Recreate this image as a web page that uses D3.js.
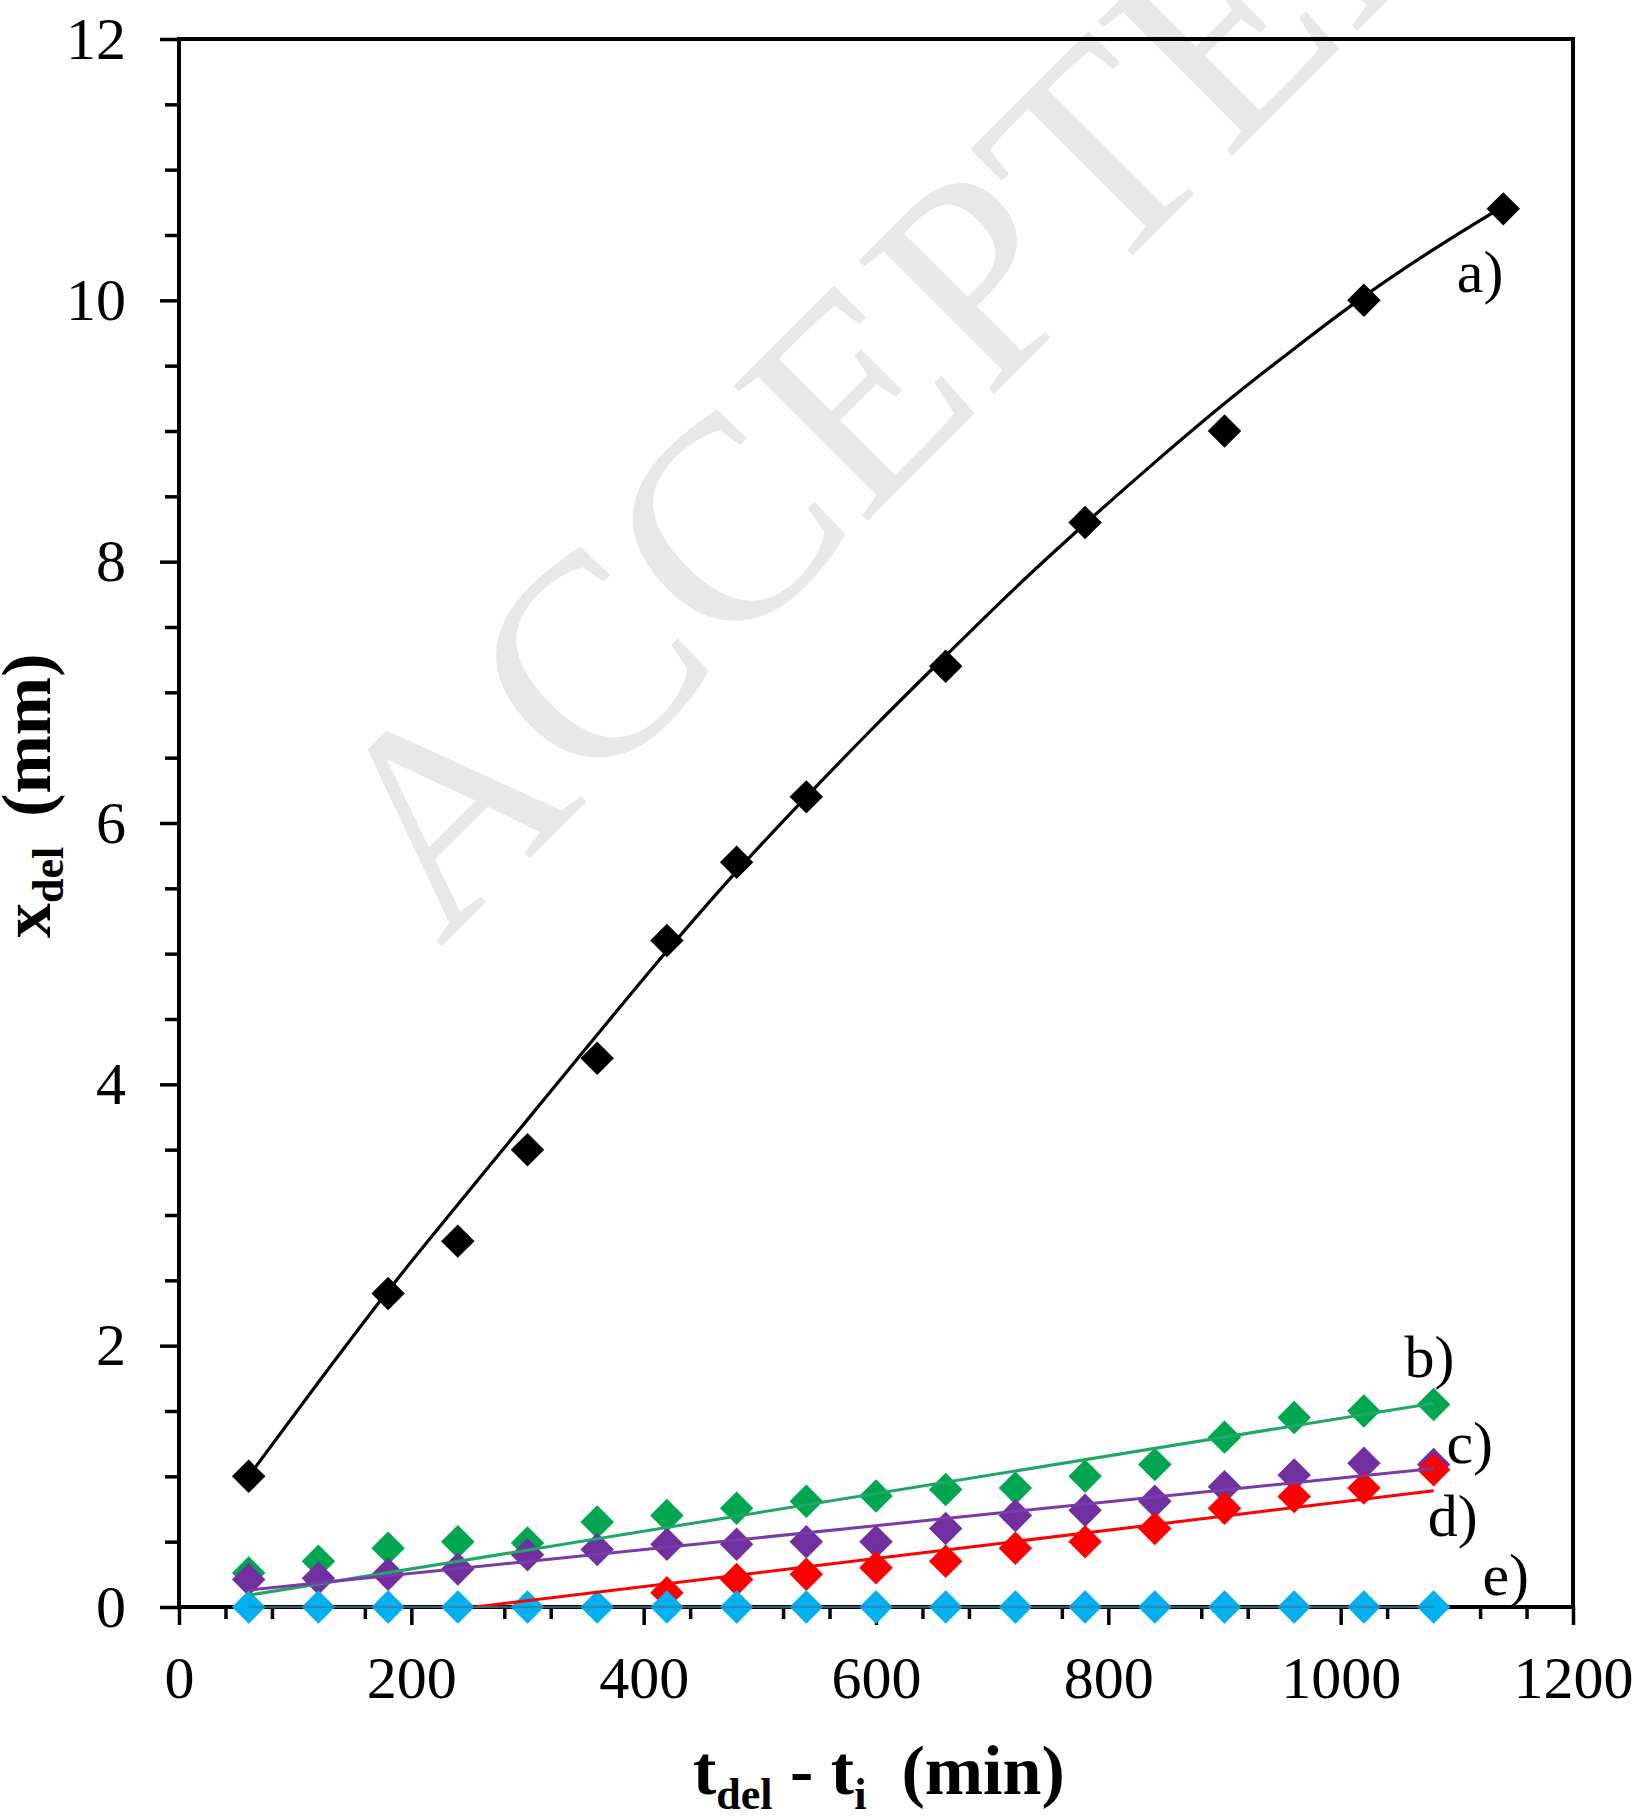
<!DOCTYPE html>
<html>
<head>
<meta charset="utf-8">
<script src="https://cdn.jsdelivr.net/npm/d3@7"></script>
<style>
  body { margin: 0; background: #fff; }
  text { font-family: "Liberation Serif", "Times New Roman", serif; }
</style>
</head>
<body>
<script>
// a) black series, measured points
const tA = [60, 180, 240, 300, 360, 420, 480, 540, 660, 780, 900, 1020, 1140];
const xA = [1.0, 2.4, 2.8, 3.5, 4.2, 5.1, 5.7, 6.2, 7.2, 8.3, 9.0, 10.0, 10.7];
// a) fitted curve
const tFitA = [60, 120, 180, 240, 300, 360, 420, 480, 540, 600, 660, 720, 780, 840, 900, 960, 1020, 1080, 1140];
const xFitA = [1.0, 1.72, 2.42, 3.08, 3.73, 4.38, 5.02, 5.63, 6.2, 6.75, 7.28, 7.8, 8.29, 8.76, 9.21, 9.63, 10.03, 10.39, 10.72];

// b) c) e) share the same times
const tLow = [60, 120, 180, 240, 300, 360, 420, 480, 540, 600, 660, 720, 780, 840, 900, 960, 1020, 1080];
const xB = [0.26, 0.35, 0.45, 0.50, 0.49, 0.65, 0.70, 0.755, 0.81, 0.85, 0.90, 0.91, 1.0, 1.09, 1.30, 1.45, 1.50, 1.55];
const xC = [0.21, 0.22, 0.25, 0.29, 0.40, 0.44, 0.48, 0.48, 0.50, 0.50, 0.60, 0.70, 0.74, 0.81, 0.92, 1.01, 1.10, 1.09];
const xE = [0, 0, 0, 0, 0, 0, 0, 0, 0, 0, 0, 0, 0, 0, 0, 0, 0, 0];
// d) starts later
const tD = [420, 480, 540, 600, 660, 720, 780, 840, 900, 960, 1020, 1080];
const xD = [0.11, 0.21, 0.25, 0.30, 0.35, 0.45, 0.50, 0.60, 0.755, 0.845, 0.91, 1.05];

// straight trend lines (end points)
const fitB = [[60, 0.09], [1080, 1.56]];
const fitC = [[60, 0.13], [1080, 1.06]];
const fitD = [[255, 0], [1080, 0.89]];
const fitE = [[60, 0], [1080, 0]];

const xTicks = [0, 200, 400, 600, 800, 1000, 1200];
const yTicks = [0, 2, 4, 6, 8, 10, 12];

const labels = [
  { name: "a)", t: 1100, v: 10.06 },
  { name: "b)", t: 1055, v: 1.76 },
  { name: "c)", t: 1091, v: 1.10 },
  { name: "d)", t: 1075, v: 0.54 },
  { name: "e)", t: 1122, v: 0.09 }
];

const w = 1632;
const h = 1818;

const svg = d3.select("body")
              .append("svg")
              .attr("width", w)
              .attr("height", h);

svg.append("rect").attr("width", w).attr("height", h).attr("fill", "#fff");

const x = d3.scaleLinear().domain([0, 1200]).range([179, 1573]);
const y = d3.scaleLinear().domain([0, 12]).range([1607, 39]);

// watermark
svg.append("text")
   .attr("transform", "translate(440,948) rotate(-45)")
   .attr("font-size", 290)
   .attr("fill", "#e8e8e8")
   .text("ACCEPTED MANUSCRIPT");

// axes with major + minor ticks
const xMinor = d3.range(0, 1201, 40).filter(d => d % 200 !== 0);
const yMinor = d3.range(0, 12.01, 0.5).filter(d => d % 2 !== 0);

svg.append("g")
   .attr("transform", `translate(0,${y(0)})`)
   .call(d3.axisBottom(x).tickValues(xMinor).tickSize(12).tickFormat(""))
   .call(g => g.select(".domain").remove())
   .call(g => g.selectAll("line").attr("stroke-width", 3.5));

svg.append("g")
   .attr("transform", `translate(0,${y(0)})`)
   .call(d3.axisBottom(x).tickValues(xTicks).tickSize(18).tickPadding(30).tickFormat(d3.format("d")))
   .call(g => g.select(".domain").remove())
   .call(g => g.selectAll("line").attr("stroke-width", 3.5))
   .call(g => g.selectAll("text").attr("font-size", 60).attr("font-family", "Liberation Serif").attr("fill", "#000"));

svg.append("g")
   .attr("transform", `translate(${x(0)},0)`)
   .call(d3.axisLeft(y).tickValues(yMinor).tickSize(14).tickFormat(""))
   .call(g => g.select(".domain").remove())
   .call(g => g.selectAll("line").attr("stroke-width", 3.5));

svg.append("g")
   .attr("transform", `translate(${x(0)},0)`)
   .call(d3.axisLeft(y).tickValues(yTicks).tickSize(19).tickPadding(34).tickFormat(d3.format("d")))
   .call(g => g.select(".domain").remove())
   .call(g => g.selectAll("line").attr("stroke-width", 3.5))
   .call(g => g.selectAll("text").attr("font-size", 60).attr("font-family", "Liberation Serif").attr("fill", "#000"));

// frame
svg.append("rect")
   .attr("x", x(0))
   .attr("y", y(12))
   .attr("width", x(1200) - x(0))
   .attr("height", y(0) - y(12))
   .attr("fill", "none")
   .attr("stroke", "#000")
   .attr("stroke-width", 4);

const diamond = d3.symbol(d3.symbolSquare, 560);

function markers(ts, vs, color) {
  svg.append("g")
     .selectAll("path")
     .data(ts.map((t, i) => [t, vs[i]]))
     .enter()
     .append("path")
     .attr("d", diamond)
     .attr("fill", color)
     .attr("transform", d => `translate(${x(d[0])},${y(d[1])}) rotate(45)`);
}

markers(tA, xA, "#000");
markers(tLow, xB, "#00a650");
markers(tLow, xC, "#7030a0");
markers(tD, xD, "#ff0000");
markers(tLow, xE, "#00b0f0");

const line = d3.line().x(d => x(d[0])).y(d => y(d[1]));

svg.append("path")
   .datum(tFitA.map((t, i) => [t, xFitA[i]]))
   .attr("d", line.curve(d3.curveMonotoneX))
   .attr("fill", "none")
   .attr("stroke", "#000")
   .attr("stroke-width", 3.2);

const straight = d3.line().x(d => x(d[0])).y(d => y(d[1]));
[[fitB, "#1fa864", 3], [fitC, "#7a3aaa", 3], [fitD, "#ff0000", 3], [fitE, "#3a7ca5", 1.5]].forEach(([pts, c, sw]) => {
  svg.append("path")
     .datum(pts)
     .attr("d", straight)
     .attr("fill", "none")
     .attr("stroke", c)
     .attr("stroke-width", sw);
});

// series labels
svg.append("g")
   .selectAll("text")
   .data(labels)
   .enter()
   .append("text")
   .attr("x", d => x(d.t))
   .attr("y", d => y(d.v))
   .attr("font-size", 60)
   .text(d => d.name);

// axis titles
const xt = svg.append("text")
   .attr("x", 693)
   .attr("y", 1794)
   .attr("font-size", 70)
   .attr("font-weight", "bold");
xt.append("tspan").text("t");
xt.append("tspan").attr("font-size", 44).attr("dy", 15).text("del");
xt.append("tspan").attr("dy", -15).text(" - t");
xt.append("tspan").attr("font-size", 44).attr("dy", 15).text("i");
xt.append("tspan").attr("dy", -15).attr("xml:space", "preserve").text("  (min)");

const yt = svg.append("text")
   .attr("transform", "translate(50,938) rotate(-90)")
   .attr("font-size", 70)
   .attr("font-weight", "bold");
yt.append("tspan").text("x");
yt.append("tspan").attr("font-size", 44).attr("dy", 13).text("del");
yt.append("tspan").attr("dy", -13).attr("dx", 30).text("(mm)");
</script>
</body>
</html>
